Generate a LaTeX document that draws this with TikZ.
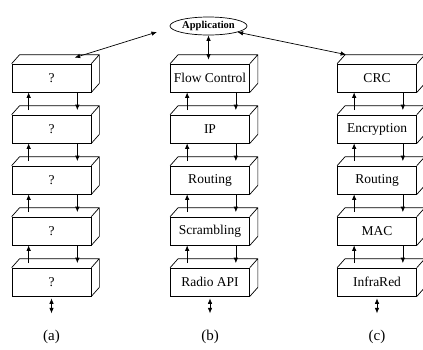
\documentclass[tikz,border=0pt]{standalone}
\usepackage{fontspec}
\setmainfont{Liberation Serif}
\usetikzlibrary{arrows.meta,shapes.geometric}
\tikzset{
  layer/.style={draw,minimum width=79pt,minimum height=28pt,inner sep=0pt,font=\fontsize{13.5}{15}\selectfont},
  tip/.style={-{Latex[length=5.5pt,width=4.5pt]}},
  both/.style={{Latex[length=5.5pt,width=4.5pt]}-{Latex[length=5.5pt,width=4.5pt]}},
  caption/.style={font=\fontsize{15}{17}\selectfont}
}
\begin{document}
\begin{tikzpicture}[x=1pt,y=-1pt,line width=0.7pt]
\useasboundingbox (0,0) rectangle (423,349);
\node[draw,ellipse,minimum width=77pt,minimum height=18pt,inner sep=0pt,font=\bfseries\fontsize{10.5}{11}\selectfont] (app) at (208.5,26) {Application};
\node[layer] (a1) at (51.5,78) {?};
\node[layer] (a2) at (51.5,129) {?};
\node[layer] (a3) at (51.5,180) {?};
\node[layer] (a4) at (51.5,231) {?};
\node[layer] (a5) at (51.5,282) {?};
\node[layer] (b1) at (210,78) {Flow Control};
\node[layer] (b2) at (210,129) {IP};
\node[layer] (b3) at (210,180) {Routing};
\node[layer] (b4) at (210,231) {Scrambling};
\node[layer] (b5) at (210,282) {Radio API};
\node[layer] (c1) at (377,78) {CRC};
\node[layer] (c2) at (377,129) {Encryption};
\node[layer] (c3) at (377,180) {Routing};
\node[layer] (c4) at (377,231) {MAC};
\node[layer] (c5) at (377,282) {InfraRed};
\foreach \n in {a1,a2,a3,a4,a5,b1,b2,b3,b4,b5,c1,c2,c3,c4,c5}
  \draw (\n.north west) -- ++(8,-9) -- ([shift={(8,-9)}]\n.north east) -- ([shift={(8,-9)}]\n.south east) -- (\n.south east) (\n.north east) -- ++(8,-9);
\foreach \c in {a,b,c}{
  \foreach \u/\l in {1/2,2/3,3/4,4/5}{
    \draw[tip] ([shift={(17,-4.5)}]\c\l.north west) -- ([xshift=17pt]\c\u.south west);
    \draw[tip] ([xshift=-14pt]\c\u.south east) -- ([shift={(-14,-4.5)}]\c\l.north east);
  }
  \draw[both] ([yshift=-2pt]\c5.south) -- ++(0,15);
}
\coordinate (appl) at (157,32);
\draw[both] (appl) -- ([shift={(63,-6)}]a1.north west);
\draw[both] (app.-12) -- ([shift={(9,-9)}]c1.north west);
\draw[both,shorten >=4pt] (app.south) -- (app.south |- b1.north);
\node[caption] (la) at (51.5,337) {(a)};
\node[caption] (lb) at (210,337) {(b)};
\node[caption] (lc) at (377,337) {(c)};
\end{tikzpicture}
\end{document}
